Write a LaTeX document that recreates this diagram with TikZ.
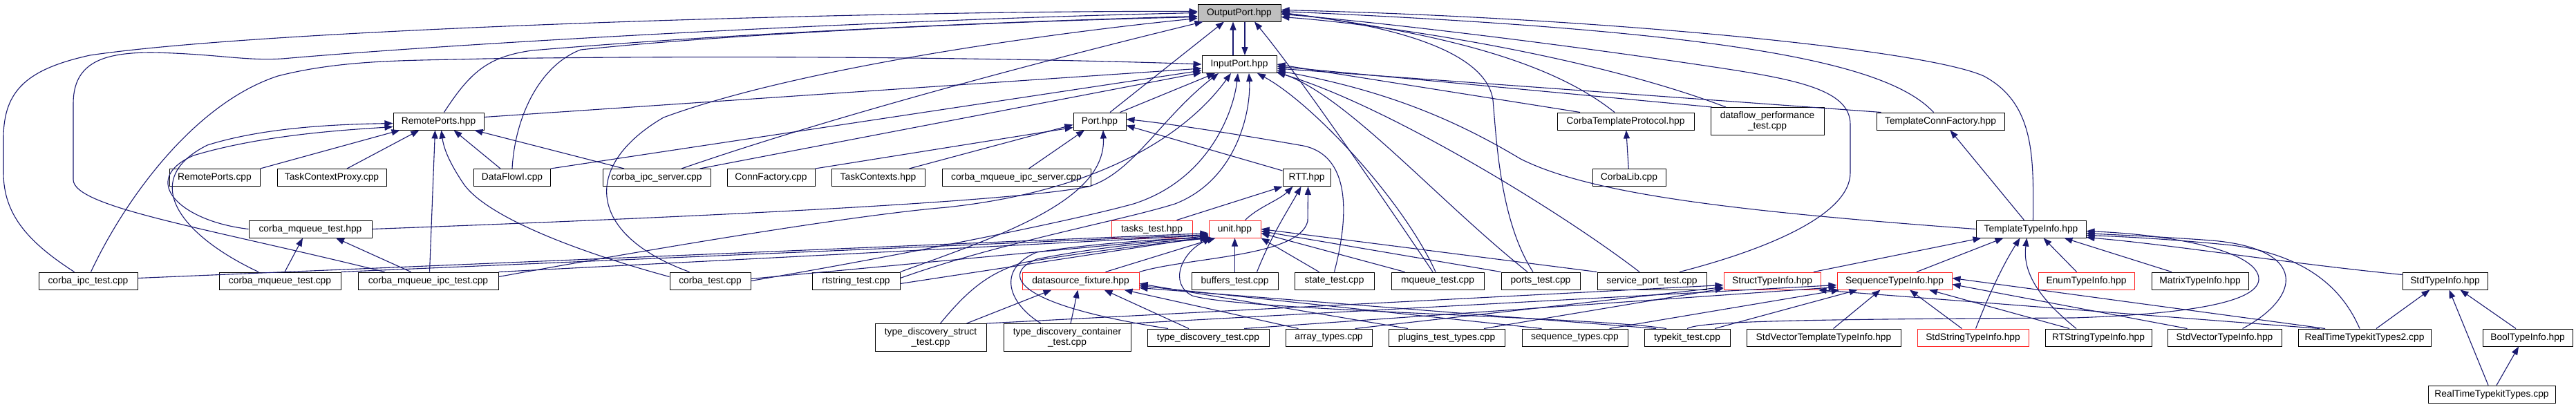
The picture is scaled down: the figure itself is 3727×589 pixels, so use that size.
\documentclass[tikz,border=0pt]{standalone}
\usepackage{fontspec}
\setmainfont{Liberation Sans}
\usetikzlibrary{arrows.meta}
\definecolor{edgec}{HTML}{191970}
\definecolor{rootfill}{HTML}{BFBFBF}
\definecolor{redb}{HTML}{FF2020}
\begin{document}
\begin{tikzpicture}[x=1pt,y=-1pt,
  nd/.style={draw=black, fill=white, line width=1pt, minimum height=25pt, inner sep=0pt,
     font=\fontsize{13.8}{15.5}\selectfont, align=center},
  nd2/.style={nd, minimum height=40pt},
  rd/.style={nd, draw=redb},
  e/.style={draw=edgec, line width=1.1pt, -{Triangle[length=12pt,width=9pt]}}]
\useasboundingbox (0,0) rectangle (3727,589);
% row 0-1
\node[nd, fill=rootfill, minimum width=120pt] (op) at (1793,18.5) {OutputPort.hpp};
\node[nd, minimum width=108pt] (ip) at (1793,93) {InputPort.hpp};
% row 2
\node[nd, minimum width=131pt] (rph) at (634.5,175.5) {RemotePorts.hpp};
\node[nd, minimum width=76pt] (port) at (1591,175.5) {Port.hpp};
\node[nd, minimum width=198pt] (ctp) at (2352,175.5) {CorbaTemplateProtocol.hpp};
\node[nd2, minimum width=164pt] (dpt) at (2557,175.5) {dataflow\_performance\\\_test.cpp};
\node[nd, minimum width=185pt] (tcf) at (2807.5,175.5) {TemplateConnFactory.hpp};
% row 3
\node[nd, minimum width=131pt] (rpc) at (310.5,257) {RemotePorts.cpp};
\node[nd, minimum width=158pt] (tcp) at (480,257) {TaskContextProxy.cpp};
\node[nd, minimum width=110.5pt] (dfi) at (741,257) {DataFlowI.cpp};
\node[nd, minimum width=156pt] (cis) at (950,257) {corba\_ipc\_server.cpp};
\node[nd, minimum width=127pt] (cf) at (1115.5,257) {ConnFactory.cpp};
\node[nd, minimum width=135pt] (tch) at (1270.5,257) {TaskContexts.hpp};
\node[nd, minimum width=215pt] (cmis) at (1470.5,257) {corba\_mqueue\_ipc\_server.cpp};
\node[nd, minimum width=69pt] (rtt) at (1890.5,257) {RTT.hpp};
\node[nd, minimum width=106pt] (cl) at (2357,257) {CorbaLib.cpp};
% row 4
\node[nd, minimum width=178pt] (cmth) at (449,331.5) {corba\_mqueue\_test.hpp};
\node[rd, minimum width=117pt] (tth) at (1666.5,331.5) {tasks\_test.hpp};
\node[rd, minimum width=75pt] (unit) at (1786.5,331.5) {unit.hpp};
\node[nd, minimum width=159pt] (tti) at (2938.5,331.5) {TemplateTypeInfo.hpp};
% row 5
\node[nd, minimum width=143pt] (cit) at (127.5,406.5) {corba\_ipc\_test.cpp};
\node[nd, minimum width=176pt] (cmt) at (405,406.5) {corba\_mqueue\_test.cpp};
\node[nd, minimum width=203pt] (cmit) at (619.5,406.5) {corba\_mqueue\_ipc\_test.cpp};
\node[nd, minimum width=117pt] (ct) at (1027.5,406.5) {corba\_test.cpp};
\node[nd, minimum width=127pt] (rst) at (1238.5,406.5) {rtstring\_test.cpp};
\node[rd, minimum width=169pt] (dsf) at (1563.5,406.5) {datasource\_fixture.hpp};
\node[nd, minimum width=125pt] (bt) at (1786.5,406.5) {buffers\_test.cpp};
\node[nd, minimum width=115pt] (st) at (1930.5,406.5) {state\_test.cpp};
\node[nd, minimum width=134pt] (mt) at (2080,406.5) {mqueue\_test.cpp};
\node[nd, minimum width=114pt] (pt) at (2229,406.5) {ports\_test.cpp};
\node[nd, minimum width=158pt] (spt) at (2390,406.5) {service\_port\_test.cpp};
\node[rd, minimum width=140pt] (sti) at (2564,406.5) {StructTypeInfo.hpp};
\node[rd, minimum width=166pt] (sqti) at (2741,406.5) {SequenceTypeInfo.hpp};
\node[rd, minimum width=139pt] (eti) at (3018.5,406.5) {EnumTypeInfo.hpp};
\node[nd, minimum width=140pt] (mti) at (3183,406.5) {MatrixTypeInfo.hpp};
\node[nd, minimum width=123pt] (stdti) at (3537.5,406.5) {StdTypeInfo.hpp};
% row 6
\node[nd2, minimum width=161pt] (tdst) at (1346.5,488.5) {type\_discovery\_struct\\\_test.cpp};
\node[nd2, minimum width=184pt] (tdct) at (1544,488.5) {type\_discovery\_container\\\_test.cpp};
\node[nd, minimum width=176pt] (tdt) at (1748,488.5) {type\_discovery\_test.cpp};
\node[nd, minimum width=125pt] (at) at (1922.5,488.5) {array\_types.cpp};
\node[nd, minimum width=168pt] (ptt) at (2093,488.5) {plugins\_test\_types.cpp};
\node[nd, minimum width=153pt] (sqt) at (2278.5,488.5) {sequence\_types.cpp};
\node[nd, minimum width=124pt] (tkt) at (2441,488.5) {typekit\_test.cpp};
\node[nd, minimum width=223pt] (svtti) at (2638.5,488.5) {StdVectorTemplateTypeInfo.hpp};
\node[rd, minimum width=161pt] (ssti) at (2854.5,488.5) {StdStringTypeInfo.hpp};
\node[nd, minimum width=154pt] (rsti) at (3036,488.5) {RTStringTypeInfo.hpp};
\node[nd, minimum width=165pt] (svti) at (3218.5,488.5) {StdVectorTypeInfo.hpp};
\node[nd, minimum width=192pt] (rttt2) at (3421,488.5) {RealTimeTypekitTypes2.cpp};
\node[nd, minimum width=130pt] (bti) at (3657,488.5) {BoolTypeInfo.hpp};
% row 7
\node[nd, minimum width=184pt] (rttt) at (3605,570.5) {RealTimeTypekitTypes.cpp};

% ---- edges into OutputPort
\draw[e] ([xshift=-9pt]ip.north) -- ([xshift=-9pt]op.south);
\draw[e] ([xshift=8pt]op.south) -- ([xshift=8pt]ip.north);
\draw[e] ([xshift=15pt]port.north) -- ([xshift=-22pt]op.south);
\draw[e] ([xshift=8pt]rph.north) .. controls (680,105) and (705,82) .. (770,73) .. controls (1100,45) and (1500,30) .. ([yshift=-5pt]op.west);
\draw[e] (dfi.north) .. controls (745,170) and (780,95) .. (840,72) .. controls (1100,45) and (1500,30) .. ([yshift=-6pt]op.west);
\draw[e] ([xshift=36pt]cis.north) .. controls (1200,170) and (1500,90) .. ([xshift=8pt]op.south west);
\draw[e] ([xshift=-30pt]ct.north) .. controls (850,340) and (840,240) .. (960,170) .. controls (1150,100) and (1500,50) .. ([yshift=-8pt]op.west);
\draw[e] ([xshift=-20pt]cit.north) .. controls (40,350) and (5,310) .. (5,250) -- (5,200) .. controls (5,130) and (40,100) .. (130,80) .. controls (400,40) and (1300,15) .. ([yshift=2pt]op.west);
\draw[e] ([xshift=-63pt]cmit.north) .. controls (300,330) and (106,300) .. (106,260) -- (106,150) .. controls (106,90) and (150,76) .. (220,76) .. controls (320,78) and (360,90) .. (420,84) .. controls (700,60) and (1300,28) .. (op.west);
\draw[e] ([xshift=-16pt]ctp.north) .. controls (2270,110) and (2150,55) .. (op.east);
\draw[e] ([xshift=-60pt]dpt.north) .. controls (2300,80) and (2000,35) .. ([yshift=-6pt]op.east);
\draw[e] ([xshift=-10pt]tcf.north) .. controls (2730,90) and (2500,45) .. ([yshift=2pt]op.east);
\draw[e] ([xshift=3pt]tti.north) .. controls (2942,230) and (2945,150) .. (2870,110) .. controls (2780,70) and (2300,25) .. ([yshift=4pt]op.east);
\draw[e] ([xshift=-7pt]mt.north) .. controls (2010,300) and (1880,110) .. ([xshift=22pt]op.south);
\draw[e] ([xshift=-11pt]pt.north) .. controls (2170,320) and (2165,200) .. (2160,145) .. controls (2150,70) and (2000,35) .. (op.east);
\draw[e] ([xshift=40pt]spt.north) .. controls (2560,360) and (2677,310) .. (2677,250) -- (2677,180) .. controls (2677,130) and (2600,115) .. (2480,97) .. controls (2200,55) and (1950,28) .. ([yshift=-2pt]op.east);

% ---- edges into InputPort
\draw[e] ([xshift=4pt]cit.north) .. controls (180,290) and (280,150) .. (402,110) .. controls (500,85) and (600,88) .. (700,85) .. controls (1200,78) and (1600,88) .. (ip.west);
\draw[e] ([yshift=6pt]rph.east) -- ([yshift=-6pt]ip.west);
\draw[e] (dfi.north east) -- ([yshift=-9pt]ip.west);
\draw[e] ([xshift=-16pt]cis.north east) -- ([yshift=-12pt]ip.west);
\draw[e] ([xshift=-9pt]port.north east) -- ([xshift=-35pt]ip.south);
\draw[e] ([xshift=-66pt]ctp.north) -- (ip.east);
\draw[e] ([xshift=-80pt]dpt.north) -- ([yshift=-3pt]ip.east);
\draw[e] ([xshift=-86pt]tcf.north) -- ([yshift=-6pt]ip.east);
\draw[e] (tti.west) .. controls (2500,305) and (2300,280) .. (2200,230) .. controls (2100,170) and (2000,130) .. ([yshift=-9pt]ip.east);
\draw[e] ([xshift=-3pt]mt.north) .. controls (2030,290) and (1900,150) .. ([xshift=26pt]ip.south);
\draw[e] ([xshift=-19pt]pt.north) .. controls (2080,290) and (1950,140) .. ([yshift=-11pt]ip.east);
\draw[e] ([xshift=-18pt]spt.north) .. controls (2250,300) and (2000,150) .. ([yshift=-12pt]ip.east);
\draw[e] (cmth.east) .. controls (900,318) and (1450,295) .. (1575,270) .. controls (1640,250) and (1680,170) .. ([xshift=-30pt]ip.south);
\draw[e] ([yshift=6pt]cmit.east) .. controls (1000,350) and (1250,310) .. (1370,300) .. controls (1600,275) and (1720,190) .. ([xshift=-12pt]ip.south);
\draw[e] (ct.east) .. controls (1300,370) and (1550,320) .. (1640,295) .. controls (1750,260) and (1785,160) .. ([xshift=-2pt]ip.south);
\draw[e] ([yshift=4pt]rst.east) .. controls (1450,350) and (1620,320) .. (1700,295) .. controls (1790,260) and (1810,160) .. ([xshift=14pt]ip.south);

% ---- Port
\draw[e] ([xshift=45pt]tch.north) -- ([yshift=-5pt]port.west);
\draw[e] ([xshift=18pt]cmis.north) -- ([xshift=-22pt]port.south);
\draw[e] (cf.north east) -- ([yshift=-9pt]port.west);
\draw[e] ([yshift=-3pt]rtt.north west) -- ([yshift=-6pt]port.east);
\draw[e] (st.north) .. controls (1955,300) and (1950,220) .. (1880,210) .. controls (1800,196) and (1700,180) .. ([yshift=3pt]port.east);
\draw[e] (rst.north east) .. controls (1450,340) and (1600,290) .. ([xshift=5pt]port.south);

% ---- RemotePorts.hpp
\draw[e] (rpc.north east) -- ([xshift=10pt]rph.south west);
\draw[e] ([xshift=22pt]tcp.north) -- ([xshift=38pt]rph.south west);
\draw[e] ([xshift=-17pt]dfi.north) -- ([xshift=22pt]rph.south);
\draw[e] ([xshift=-47pt]cis.north) -- ([xshift=-14pt]rph.south east);
\draw[e] ([xshift=2pt]cmit.north) -- ([xshift=-5pt]rph.south);
\draw[e] ([yshift=6pt]ct.west) .. controls (820,360) and (700,310) .. (670,265) .. controls (650,235) and (642,215) .. ([xshift=4pt]rph.south);
\draw[e] ([xshift=-31pt]cmt.north) .. controls (260,340) and (200,260) .. (300,210) .. controls (380,185) and (480,180) .. ([yshift=-3pt]rph.west);
\draw[e] (cmth.west) .. controls (260,320) and (200,260) .. (280,225) .. controls (380,195) and (500,188) .. ([yshift=-8pt]rph.west);

% ---- corba_mqueue_test.hpp
\draw[e] ([xshift=7pt]cmt.north) -- ([xshift=-11pt]cmth.south);
\draw[e] ([xshift=-25pt]cmit.north) -- ([xshift=37pt]cmth.south);

% ---- RTT.hpp
\draw[e] ([xshift=36pt]tth.north) -- (rtt.south west);
\draw[e] ([xshift=15pt]unit.north) .. controls (1820,300) and (1850,290) .. ([xshift=-20pt]rtt.south);
\draw[e] ([xshift=32pt]bt.north) .. controls (1840,340) and (1860,310) .. ([xshift=-8pt]rtt.south);
\draw[e] (dsf.north east) .. controls (1720,372) and (1880,372) .. (1892,320) -- ([xshift=2pt]rtt.south);

% ---- unit.hpp
\draw[e] ([yshift=4pt]cit.east) -- ([yshift=-6pt]unit.west);
\draw[e] (cmt.north east) -- ([yshift=-8pt]unit.west);
\draw[e] (cmit.north east) -- ([yshift=-9pt]unit.west);
\draw[e] ([yshift=3pt]ct.east) -- ([yshift=-10pt]unit.west);
\draw[e] ([yshift=-4pt]rst.east) -- ([yshift=-11pt]unit.west);
\draw[e] ([xshift=14pt]tdst.north) .. controls (1400,420) and (1430,395) .. (1480,380) .. controls (1600,360) and (1700,350) .. (unit.south west);
\draw[e] ([xshift=-38pt]tdct.north) .. controls (1460,440) and (1440,390) .. (1500,365) .. controls (1600,350) and (1700,345) .. (unit.south west);
\draw[e] ([xshift=-58pt]tdt.north) .. controls (1460,440) and (1450,395) .. (1500,375) .. controls (1600,355) and (1700,348) .. ([xshift=6pt]unit.south west);
\draw[e] ([xshift=36pt]dsf.north) -- ([xshift=10pt]unit.south west);
\draw[e] (bt) -- (unit);
\draw[e] ([xshift=-22pt]st.north) -- (unit.south east);
\draw[e] ([xshift=20pt]mt.north west) -- ([yshift=-6pt]unit.east);
\draw[e] (pt.north west) -- ([yshift=-3pt]unit.east);
\draw[e] (spt.north west) -- (unit.east);
\draw[e] ([xshift=-30pt]tkt.north) .. controls (2300,458) and (1800,450) .. (1725,428) .. controls (1690,410) and (1710,365) .. ([xshift=4pt]unit.south west);

% ---- CorbaTemplateProtocol / TemplateConnFactory
\draw[e] (cl) -- (ctp);
\draw[e] ([xshift=-10pt]tti.north) -- ([xshift=14pt]tcf.south);

% ---- TemplateTypeInfo.hpp
\draw[e] ([xshift=60pt]sti.north) -- ([xshift=8pt]tti.south west);
\draw[e] ([xshift=32pt]sqti.north) -- ([xshift=40pt]tti.south west);
\draw[e] ([xshift=4pt]ssti.north) .. controls (2880,420) and (2900,380) .. ([xshift=-16pt]tti.south);
\draw[e] ([xshift=-32pt]rsti.north) .. controls (2960,440) and (2925,400) .. ([xshift=-6pt]tti.south);
\draw[e] ([xshift=-14pt]eti.north) -- ([xshift=18pt]tti.south);
\draw[e] ([xshift=-41pt]mti.north) -- ([xshift=-32pt]tti.south east);
\draw[e] ([yshift=9pt]stdti.west) .. controls (3300,380) and (3150,355) .. ([yshift=-12pt]tti.east);
\draw[e] ([xshift=26pt]svti.north) .. controls (3330,430) and (3340,360) .. (3200,348) .. controls (3120,342) and (3060,340) .. ([yshift=-6pt]tti.east);
\draw[e] ([xshift=-7pt]rttt2.north) .. controls (3390,420) and (3340,370) .. (3230,355) .. controls (3130,345) and (3060,342) .. ([yshift=-9pt]tti.east);
\draw[e] (tkt.north) .. controls (2460,465) and (2600,462) .. (3000,460) .. controls (3150,455) and (3265,440) .. (3268,405) .. controls (3270,365) and (3150,340) .. ([yshift=-3pt]tti.east);

% ---- datasource_fixture.hpp
\draw[e] ([xshift=52pt]tdst.north) -- ([xshift=-42pt]dsf.south);
\draw[e] ([xshift=5pt]tdct.north) -- ([xshift=-4pt]dsf.south);
\draw[e] ([xshift=-28pt]tdt.north) -- ([xshift=34pt]dsf.south);
\draw[e] ([xshift=-44pt]at.north) -- ([xshift=-22pt]dsf.south east);
\draw[e] ([xshift=-56pt]ptt.north) -- ([yshift=-4pt]dsf.east);
\draw[e] ([xshift=-48pt]sqt.north) -- ([yshift=-7pt]dsf.east);
\draw[e] ([xshift=-45pt]tkt.north) -- ([yshift=-10pt]dsf.east);

% ---- StructTypeInfo.hpp
\draw[e] (tdst.north east) -- ([yshift=-6pt]sti.west);
\draw[e] ([xshift=38pt]at.north) -- ([yshift=-9pt]sti.west);
\draw[e] ([xshift=54pt]ptt.north) -- ([yshift=-11pt]sti.west);
\draw[e] ([xshift=-65pt]rttt2.north) -- ([xshift=-4pt]sti.south east);

% ---- SequenceTypeInfo.hpp
\draw[e] (tdct.north east) -- ([yshift=-6pt]sqti.west);
\draw[e] ([xshift=52pt]tdt.north) -- ([yshift=-9pt]sqti.west);
\draw[e] ([xshift=50pt]sqt.north) -- ([xshift=4pt]sqti.south west);
\draw[e] ([xshift=40pt]tkt.north) -- ([xshift=30pt]sqti.south west);
\draw[e] ([xshift=14pt]svtti.north) -- ([xshift=63pt]sqti.south west);
\draw[e] ([xshift=-16pt]ssti.north) -- ([xshift=22pt]sqti.south);
\draw[e] ([xshift=-42pt]rsti.north) -- ([xshift=50pt]sqti.south);
\draw[e] ([xshift=-54pt]svti.north) -- ([yshift=-5pt]sqti.east);
\draw[e] ([xshift=-57pt]rttt2.north) -- ([yshift=4pt]sqti.east);

% ---- StdTypeInfo / BoolTypeInfo
\draw[e] ([xshift=17pt]rttt2.north) -- ([xshift=-22pt]stdti.south);
\draw[e] ([xshift=-17pt]bti.north) -- ([xshift=22pt]stdti.south);
\draw[e] ([xshift=-5pt]rttt.north) -- ([xshift=6pt]stdti.south);
\draw[e] ([xshift=7pt]rttt.north) -- ([xshift=-13pt]bti.south);
\end{tikzpicture}
\end{document}
